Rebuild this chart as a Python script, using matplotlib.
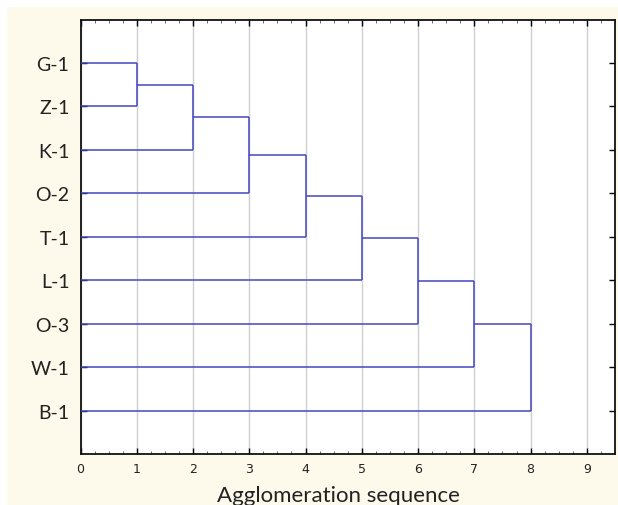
import matplotlib
matplotlib.use("Agg")
import matplotlib.pyplot as plt
from matplotlib.patches import Rectangle
from matplotlib.ticker import MultipleLocator

# Data: leaves (top to bottom) and agglomeration step at which each joins
leaves = ["G-1", "Z-1", "K-1", "O-2", "T-1", "L-1", "O-3", "W-1", "B-1"]
merge_steps = [1, 2, 3, 4, 5, 6, 7, 8]  # step at which leaf i+1 joins the cluster
x_ticks = [0, 1, 2, 3, 4, 5, 6, 7, 8, 9]
xlabel = "Agglomeration sequence"

line_color = "#4545c0"
bg_color = "#fdfaec"

fig = plt.figure(figsize=(6.18, 5.06), dpi=100)
fig.patch.set_facecolor("white")
bg = Rectangle((7 / 618, 0), 1, 1 - 8 / 506, transform=fig.transFigure,
               facecolor=bg_color, edgecolor="none", zorder=-10)
fig.patches.append(bg)

ax = fig.add_axes([80.5 / 618, 51 / 506, (615 - 80.5) / 618, (485.5 - 51) / 506])
ax.set_zorder(1)
ax.set_facecolor("white")

ypos = {name: i + 1 for i, name in enumerate(leaves)}

# Build the chained dendrogram
cur_y = ypos[leaves[0]]
cur_x = 0.0
for i, step in enumerate(merge_steps):
    new_leaf = leaves[i + 1]
    ny = ypos[new_leaf]
    ax.plot([cur_x, step], [cur_y, cur_y], color=line_color, lw=1.1, solid_capstyle="butt", zorder=3)
    ax.plot([0, step], [ny, ny], color=line_color, lw=1.1, solid_capstyle="butt", zorder=3)
    ax.plot([step, step], [cur_y, ny], color=line_color, lw=1.1, solid_capstyle="butt", zorder=3)
    cur_y = (cur_y + ny) / 2
    cur_x = step

ax.set_xlim(0, 9.5)
ax.set_ylim(len(leaves) + 1, 0)
ax.set_xticks(x_ticks)
ax.xaxis.set_minor_locator(MultipleLocator(0.25))
ax.set_yticks([ypos[n] for n in leaves])
ax.set_yticklabels(leaves, fontsize=14, family=["Lato", "DejaVu Sans"], color="#222222")
ax.set_xticklabels([str(t) for t in x_ticks], fontsize=9,
                   family=["Liberation Sans Narrow", "DejaVu Sans"], color="#222222")

ax.grid(axis="x", which="major", color="#cfcfcf", lw=1.0, zorder=0)
ax.set_axisbelow(True)
ax.tick_params(axis="x", which="major", direction="in", top=True, bottom=True, length=4, width=1, pad=6)
ax.tick_params(axis="x", which="minor", direction="in", top=True, bottom=True, length=2, width=0.6, color="#555555")
ax.tick_params(axis="y", which="major", direction="in", left=True, right=True, length=4, width=1, pad=8)
for s in ax.spines.values():
    s.set_linewidth(1.3)
    s.set_color("#111111")

fig.text(338 / 618, 10 / 506, xlabel, ha="center", va="center", fontsize=16,
         family=["Lato", "DejaVu Sans"], color="#222222")

fig.savefig("out.png", dpi=100, facecolor=fig.get_facecolor())
